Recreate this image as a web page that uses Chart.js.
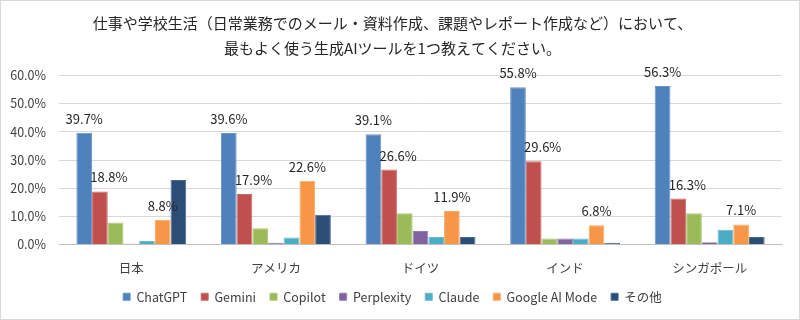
<!DOCTYPE html>
<html lang="ja">
  <head>
    <meta charset="UTF-8" />
    <title>生成AIツールの利用</title>
    <style>
      * {
        margin: 0;
        padding: 0;
        box-sizing: border-box;
      }
      body {
        background: #fff;
        width: 800px;
        height: 320px;
        overflow: hidden;
      }
      .wrap {
        position: relative;
        width: 800px;
        height: 320px;
        border: 1px solid #d9d9d9;
      }
    </style>
    <script src="https://cdn.jsdelivr.net/npm/chart.js"></script>
  </head>
  <body>
    <div class="wrap">
      <canvas id="chart"></canvas>
    </div>
    <script>
      const categories = ["日本", "アメリカ", "ドイツ", "インド", "シンガポール"];
      const titleLines = [
        "仕事や学校生活（日常業務でのメール・資料作成、課題やレポート作成など）において、",
        "最もよく使う生成AIツールを1つ教えてください。",
      ];
      const chatgpt = [39.7, 39.6, 39.1, 55.8, 56.3];
      const gemini = [18.8, 17.9, 26.6, 29.6, 16.3];
      const copilot = [7.8, 5.8, 11.1, 2.1, 11.1];
      const perplexity = [0.3, 0.6, 4.8, 2.1, 0.8];
      const claude = [1.2, 2.5, 2.7, 2.1, 5.2];
      const googleAiMode = [8.8, 22.6, 11.9, 6.8, 7.1];
      const others = [22.9, 10.6, 2.7, 0.6, 2.7];
      const yTicks = [0, 10, 20, 30, 40, 50, 60];

      const fontJa = "'Noto Sans CJK JP', 'Noto Sans', sans-serif";

      function series(label, data, color, border, showLabel, labelShift) {
        return {
          label: label,
          data: data,
          backgroundColor: color,
          borderColor: border,
          borderWidth: 1,
          showLabel: showLabel,
          labelShift: labelShift || 0,
        };
      }

      // 値ラベル（ChatGPT / Gemini / Google AI Mode のみ）
      const valueLabels = {
        id: "valueLabels",
        afterDatasetsDraw(chart) {
          const ctx = chart.ctx;
          ctx.save();
          ctx.font = "13px " + fontJa;
          ctx.fillStyle = "#262626";
          ctx.textAlign = "center";
          ctx.textBaseline = "middle";
          chart.data.datasets.forEach((ds, i) => {
            if (!ds.showLabel) return;
            chart.getDatasetMeta(i).data.forEach((bar, j) => {
              ctx.fillText(ds.data[j].toFixed(1) + "%", bar.x + ds.labelShift, bar.y - 14);
            });
          });
          ctx.restore();
        },
      };

      new Chart(document.getElementById("chart"), {
        type: "bar",
        data: {
          labels: categories,
          datasets: [
            series("ChatGPT", chatgpt, "#4f81bd", "#6a94c9", true),
            series("Gemini", gemini, "#c0504d", "#cc6b68", true, 9),
            series("Copilot", copilot, "#9bbb59", "#aec873", false),
            series("Perplexity", perplexity, "#8064a2", "#957eb2", false),
            series("Claude", claude, "#4bacc6", "#69bbd0", false),
            series("Google AI Mode", googleAiMode, "#f79646", "#f9a965", true),
            series("その他", others, "#2c4d75", "#4a6890", false),
          ],
        },
        options: {
          responsive: true,
          maintainAspectRatio: false,
          animation: false,
          layout: { padding: { left: 2, right: 17, top: 6, bottom: 6 } },
          datasets: {
            bar: { categoryPercentage: 0.76, barPercentage: 1.0 },
          },
          plugins: {
            title: {
              display: true,
              text: titleLines,
              color: "#262626",
              font: { family: fontJa, size: 15, weight: "normal", lineHeight: 1.65 },
              padding: { top: 4, bottom: 15 },
            },
            legend: {
              position: "bottom",
              labels: {
                boxWidth: 7,
                boxHeight: 7,
                color: "#404040",
                padding: 14,
                font: { family: fontJa, size: 12.5 },
              },
            },
            tooltip: { enabled: false },
          },
          scales: {
            x: {
              grid: { display: false },
              border: { color: "#bfbfbf" },
              ticks: { color: "#404040", font: { family: fontJa, size: 12.5 }, padding: 8 },
              afterFit(axis) {
                axis.height -= 7;
              },
            },
            y: {
              min: 0,
              max: 60,
              afterBuildTicks(axis) {
                axis.ticks = yTicks.map(v => ({ value: v }));
              },
              afterFit(axis) {
                axis.width = 56;
              },
              grid: { color: "#d9d9d9", drawTicks: false },
              border: { display: false },
              ticks: {
                color: "#404040",
                padding: 13,
                font: { family: fontJa, size: 12.5 },
                callback: v => v.toFixed(1) + "%",
              },
            },
          },
        },
        plugins: [valueLabels],
      });
    </script>
  </body>
</html>
